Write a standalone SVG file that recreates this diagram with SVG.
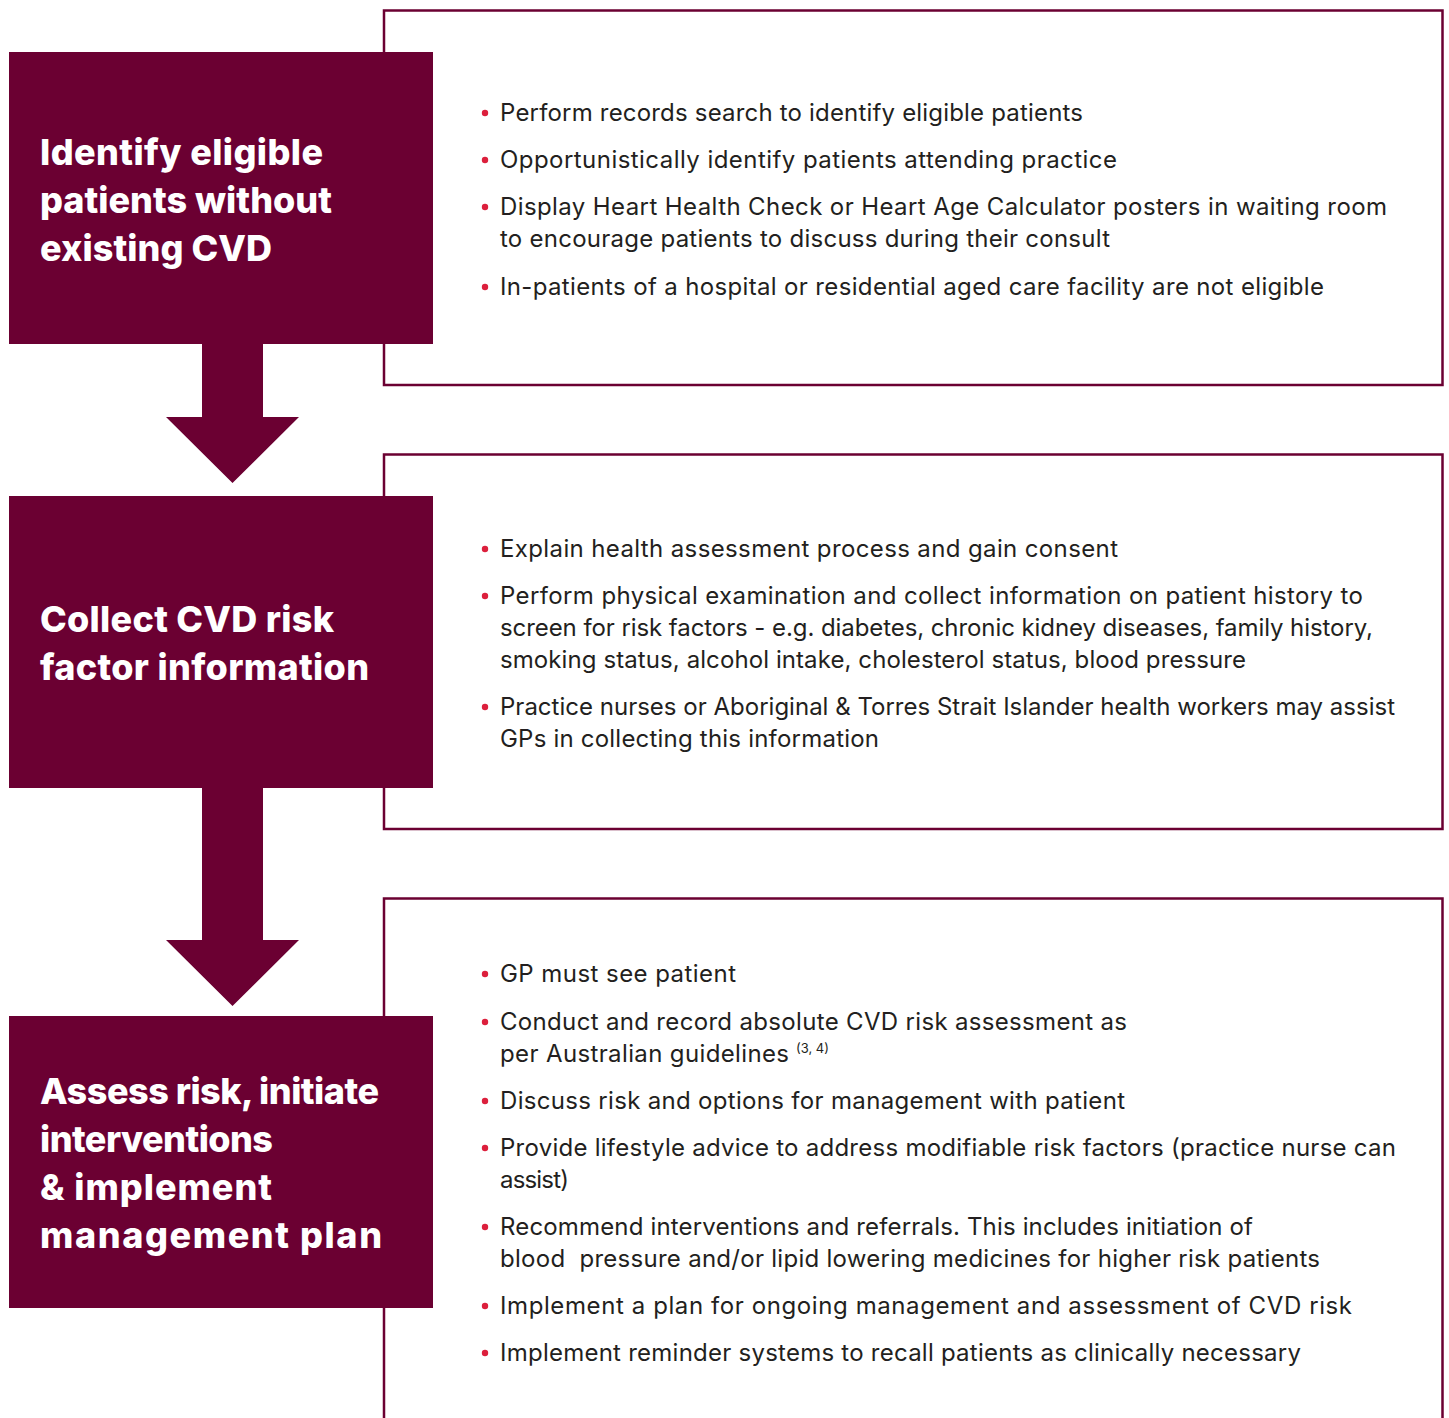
<svg xmlns="http://www.w3.org/2000/svg" width="1449" height="1418" viewBox="0 0 1449 1418">
  <style>
    .panel { fill: #ffffff; stroke: #6b0032; stroke-width: 2.5; }
    .step { fill: #6b0032; }
    .head { font-family: Inter, "Liberation Sans", sans-serif; font-weight: 800; font-size: 36px; fill: #ffffff; }
    .body { font-family: Inter, "Liberation Sans", sans-serif; font-weight: 400; font-size: 24px; fill: #231f20; }
    .sup { font-family: Inter, "Liberation Sans", sans-serif; font-size: 13px; fill: #231f20; }
    .dot { fill: #dc1f3c; }
    .arrow { fill: #6b0032; }
  </style>

  <rect width="1449" height="1418" fill="#ffffff"/>

  <!-- Step 1: identify patients -->
  <g id="step-identify">
    <rect class="panel" x="384" y="10.5" width="1058.5" height="374.5"/>
    <rect class="step" x="9" y="52" width="424" height="292"/>
    <text class="head" lengthAdjust="spacingAndGlyphs">
      <tspan x="40" y="165" textLength="283">Identify eligible</tspan>
      <tspan x="40" y="213" textLength="292">patients without</tspan>
      <tspan x="40" y="261" textLength="232">existing CVD</tspan>
    </text>
    <circle class="dot" cx="485" cy="113" r="3.2"/>
    <circle class="dot" cx="485" cy="160" r="3.2"/>
    <circle class="dot" cx="485" cy="207" r="3.2"/>
    <circle class="dot" cx="485" cy="287" r="3.2"/>
    <text class="body" lengthAdjust="spacingAndGlyphs">
      <tspan x="500" y="121" textLength="583">Perform records search to identify eligible patients</tspan>
      <tspan x="500" y="168" textLength="617">Opportunistically identify patients attending practice</tspan>
      <tspan x="500" y="215" textLength="887">Display Heart Health Check or Heart Age Calculator posters in waiting room</tspan>
      <tspan x="500" y="247" textLength="610">to encourage patients to discuss during their consult</tspan>
      <tspan x="500" y="295" textLength="824">In-patients of a hospital or residential aged care facility are not eligible</tspan>
    </text>
  </g>

  <!-- Step 2: collect risk factor information -->
  <g id="step-collect">
    <rect class="panel" x="384" y="454.5" width="1058.5" height="374.5"/>
    <rect class="step" x="9" y="496" width="424" height="292"/>
    <text class="head" lengthAdjust="spacingAndGlyphs">
      <tspan x="40" y="632" textLength="294">Collect CVD risk</tspan>
      <tspan x="40" y="680" textLength="329">factor information</tspan>
    </text>
    <circle class="dot" cx="485" cy="549" r="3.2"/>
    <circle class="dot" cx="485" cy="596" r="3.2"/>
    <circle class="dot" cx="485" cy="707" r="3.2"/>
    <text class="body" lengthAdjust="spacingAndGlyphs">
      <tspan x="500" y="557" textLength="618">Explain health assessment process and gain consent</tspan>
      <tspan x="500" y="604" textLength="863">Perform physical examination and collect information on patient history to</tspan>
      <tspan x="500" y="636" textLength="873">screen for risk factors - e.g. diabetes, chronic kidney diseases, family history,</tspan>
      <tspan x="500" y="668" textLength="746">smoking status, alcohol intake, cholesterol status, blood pressure</tspan>
      <tspan x="500" y="715" textLength="895">Practice nurses or Aboriginal &amp; Torres Strait Islander health workers may assist</tspan>
      <tspan x="500" y="747" textLength="379">GPs in collecting this information</tspan>
    </text>
  </g>

  <!-- Step 3: assess risk and manage -->
  <g id="step-assess">
    <path class="panel" d="M384,1430 V898.5 H1442.5 V1430"/>
    <rect class="step" x="9" y="1016" width="424" height="292"/>
    <text class="head" lengthAdjust="spacingAndGlyphs">
      <tspan x="40" y="1104" textLength="339">Assess risk, initiate</tspan>
      <tspan x="40" y="1152" textLength="233">interventions</tspan>
      <tspan x="40" y="1200" textLength="232">&amp; implement</tspan>
      <tspan x="40" y="1248" textLength="342">management plan</tspan>
    </text>
    <circle class="dot" cx="485" cy="974" r="3.2"/>
    <circle class="dot" cx="485" cy="1022" r="3.2"/>
    <circle class="dot" cx="485" cy="1101" r="3.2"/>
    <circle class="dot" cx="485" cy="1148" r="3.2"/>
    <circle class="dot" cx="485" cy="1227" r="3.2"/>
    <circle class="dot" cx="485" cy="1306" r="3.2"/>
    <circle class="dot" cx="485" cy="1353" r="3.2"/>
    <text class="body" lengthAdjust="spacingAndGlyphs">
      <tspan x="500" y="982" textLength="236">GP must see patient</tspan>
      <tspan x="500" y="1030" textLength="627">Conduct and record absolute CVD risk assessment as</tspan>
      <tspan x="500" y="1062" textLength="289">per Australian guidelines</tspan>
      <tspan x="500" y="1109" textLength="625">Discuss risk and options for management with patient</tspan>
      <tspan x="500" y="1156" textLength="896">Provide lifestyle advice to address modifiable risk factors (practice nurse can</tspan>
      <tspan x="500" y="1188" textLength="69">assist)</tspan>
      <tspan x="500" y="1235" textLength="753">Recommend interventions and referrals. This includes initiation of</tspan>
      <tspan x="500" y="1267" textLength="820" xml:space="preserve">blood  pressure and/or lipid lowering medicines for higher risk patients</tspan>
      <tspan x="500" y="1314" textLength="852">Implement a plan for ongoing management and assessment of CVD risk</tspan>
      <tspan x="500" y="1361" textLength="801">Implement reminder systems to recall patients as clinically necessary</tspan>
    </text>
    <text class="sup" x="796" y="1053" textLength="33" lengthAdjust="spacingAndGlyphs">(3, 4)</text>
  </g>

  <!-- Block arrows between steps -->
  <g id="connectors">
    <polygon class="arrow" points="202,343 263,343 263,417 299,417 232.5,483 166,417 202,417"/>
    <polygon class="arrow" points="202,787 263,787 263,940 299,940 232.5,1006 166,940 202,940"/>
  </g>
</svg>
